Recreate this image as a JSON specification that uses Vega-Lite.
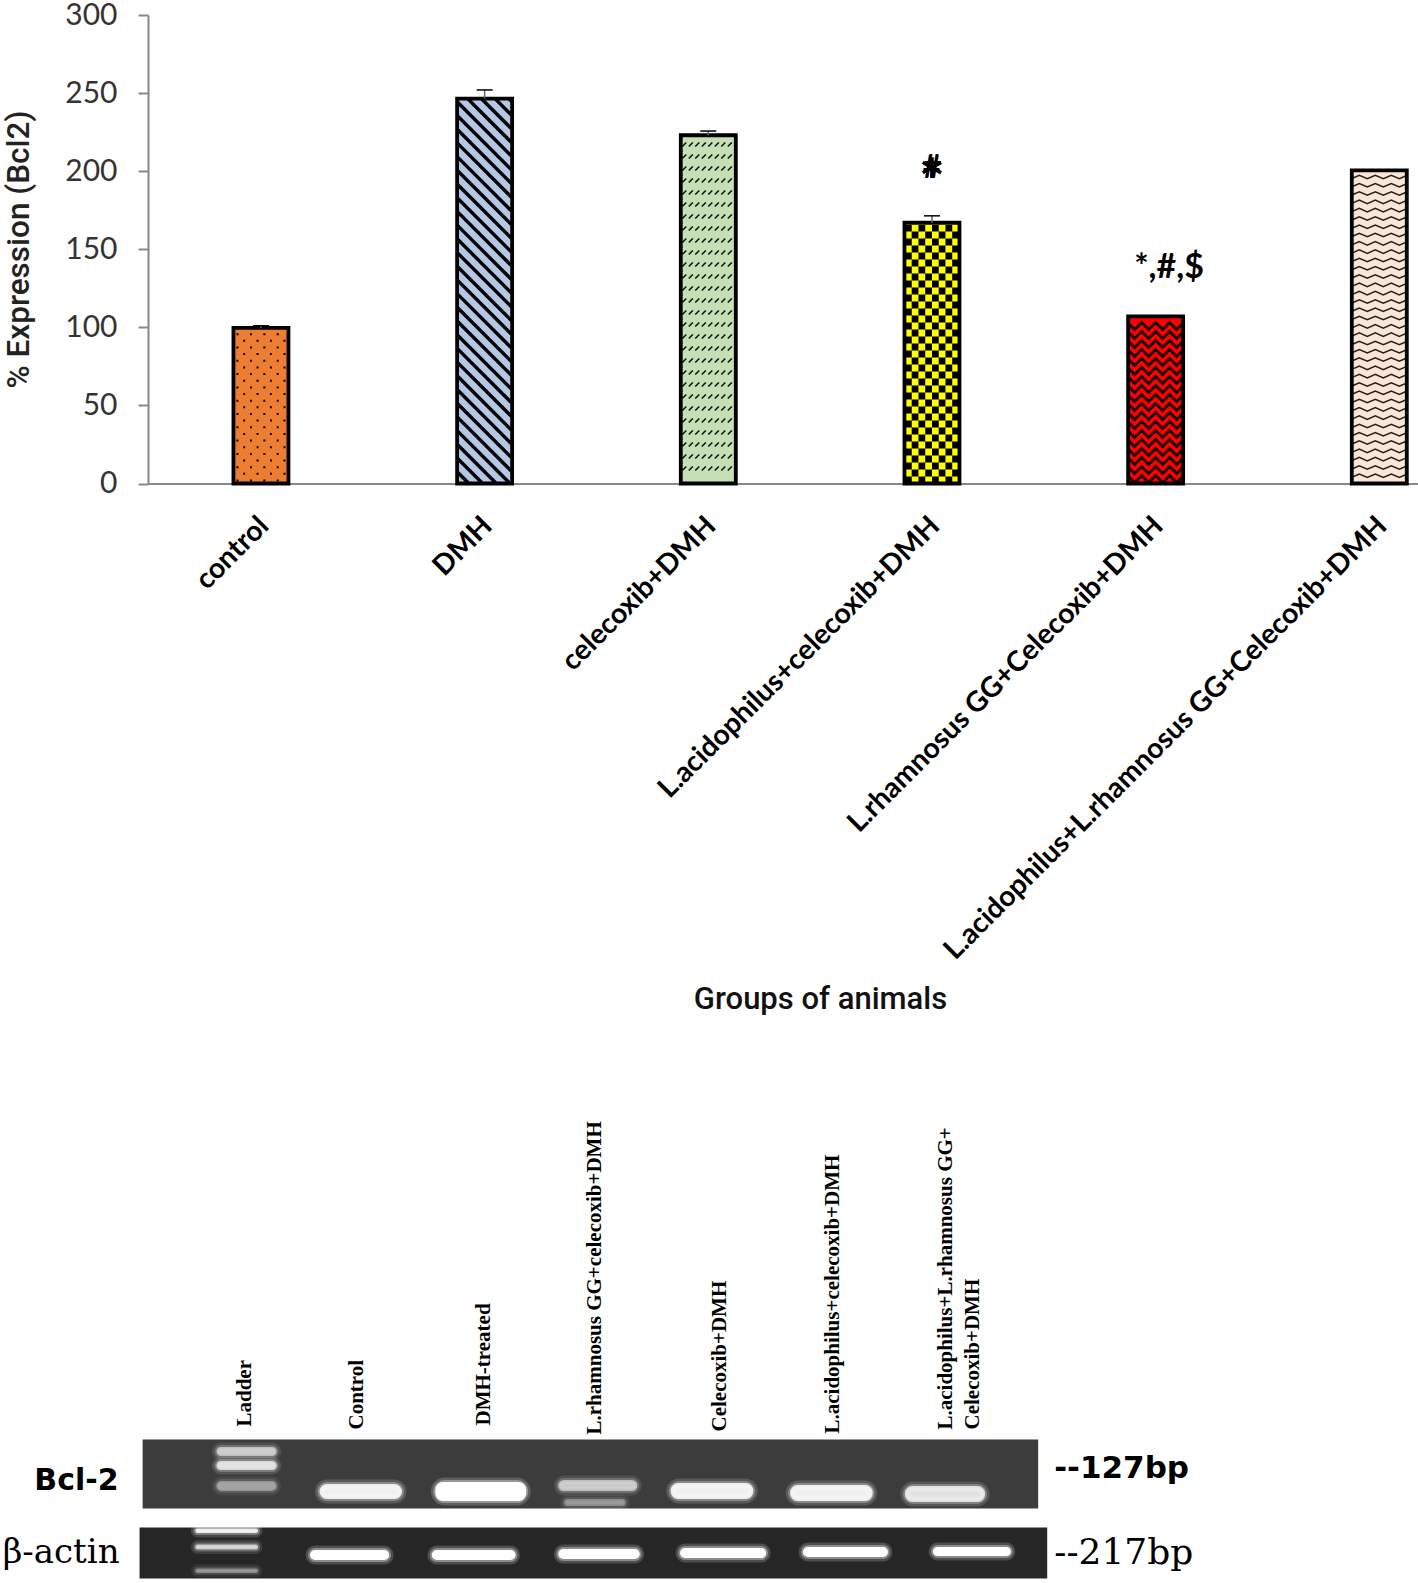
{"$schema":"https://vega.github.io/schema/vega-lite/v6.json","background":"white","padding":{"left":2,"top":0,"right":0,"bottom":0},"bounds":"flush","spacing":626.5,"config":{"view":{"stroke":null}},"datasets":{"bands":[
{"x1":0.78,"x2":1.27,"y1":33.8,"y2":34.4,"glow":0.55},
{"x1":0.78,"x2":1.27,"y1":35.2,"y2":35.8,"glow":0.7},
{"x1":0.78,"x2":1.27,"y1":37.2,"y2":37.9,"glow":0.35},
{"x1":1.66,"x2":2.34,"y1":37.5,"y2":38.7,"glow":0.85},
{"x1":2.65,"x2":3.4,"y1":37.3,"y2":38.9,"glow":1},
{"x1":3.7,"x2":4.35,"y1":37.1,"y2":37.9,"glow":0.55},
{"x1":3.75,"x2":4.25,"y1":39.0,"y2":39.4,"glow":0.3},
{"x1":4.66,"x2":5.34,"y1":37.4,"y2":38.7,"glow":0.85},
{"x1":5.68,"x2":6.36,"y1":37.6,"y2":38.9,"glow":0.85},
{"x1":6.66,"x2":7.32,"y1":37.7,"y2":39.0,"glow":0.75},
{"x1":0.6,"x2":1.11,"y1":41.95,"y2":42.1,"glow":0.85},
{"x1":0.6,"x2":1.11,"y1":43.55,"y2":43.75,"glow":0.65},
{"x1":0.6,"x2":1.11,"y1":45.95,"y2":46.1,"glow":0.35},
{"x1":1.58,"x2":2.23,"y1":44.1,"y2":44.8,"glow":1},
{"x1":2.62,"x2":3.31,"y1":44.1,"y2":44.8,"glow":1},
{"x1":3.7,"x2":4.37,"y1":44.0,"y2":44.7,"glow":1},
{"x1":4.74,"x2":5.45,"y1":43.9,"y2":44.6,"glow":1},
{"x1":5.79,"x2":6.49,"y1":43.8,"y2":44.5,"glow":1},
{"x1":6.9,"x2":7.54,"y1":43.8,"y2":44.4,"glow":1}
]},"vconcat":[
{"width":1270,"height":468.5,
"data":{"values":[{"order":1,"group":"control","value":99.6,"upper":101},{"order":2,"group":"DMH","value":246.5,"upper":252},{"order":3,"group":"celecoxib+DMH","value":223,"upper":225.7},{"order":4,"group":"L.acidophilus+celecoxib+DMH","value":167,"upper":171.4},{"order":5,"group":"L.rhamnosus GG+Celecoxib+DMH","value":107,"upper":null},{"order":6,"group":"L.acidophilus+L.rhamnosus GG+Celecoxib+DMH","value":200.5,"upper":null}]},
"layer":[
{"mark":{"type":"bar","width":55,"orient":"vertical"},"encoding":{
"x":{"field":"order","type":"quantitative","scale":{"domain":[0.495,6.173],"nice":false,"zero":false,"padding":0},"axis":{"values":[1,2,3,4,5,6],"labelExpr":"['control','DMH','celecoxib+DMH','L.acidophilus+celecoxib+DMH','L.rhamnosus GG+Celecoxib+DMH','L.acidophilus+L.rhamnosus GG+Celecoxib+DMH'][datum.value-1]","labelAngle":-45,"labelAlign":"right","labelBaseline":"middle","labelFont":"Lato","labelFontWeight":"bold","labelFontSize":28.3,"labelColor":"#000","labelPadding":38,"labelOffset":3,"labelLimit":0,"labelOverlap":false,"labelBound":false,"labelFlush":false,"ticks":false,"grid":false,"domainColor":"#888888","domainWidth":2,"title":"Groups of animals","titleFont":"Roboto","titleFontWeight":500,"titleFontSize":31,"titleColor":"#111","titleX":672,"titleY":501}},
"y":{"field":"value","type":"quantitative","stack":null,"scale":{"domain":[0,300],"nice":false},"axis":{"values":[0,50,100,150,200,250,300],"grid":false,"domainColor":"#888888","domainWidth":2,"tickColor":"#888888","tickWidth":2,"tickSize":10,"labelFont":"Lato","labelFontSize":30,"labelColor":"#333","labelPadding":21,"title":"% Expression (Bcl2)","titleFont":"Roboto","titleFontWeight":500,"titleFontSize":31.5,"titleColor":"#222","titleX":-113,"titleY":234}},
"color":{"field":"group","type":"nominal","legend":null,"scale":{"domain":["control","DMH","celecoxib+DMH","L.acidophilus+celecoxib+DMH","L.rhamnosus GG+Celecoxib+DMH","L.acidophilus+L.rhamnosus GG+Celecoxib+DMH"],"range":["#ed7d31","#b4c7e7","#c5e0b4","#ffff00","#ff0000","#fbe5d6"]}}}},
{"transform":[{"filter":"datum.order==1"}],"mark":{"type":"point","size":4,"filled":false,"opacity":1,"stroke":"#000","strokeWidth":2,"strokeDash":[2,11.3],"shape":"M-23.5,-2V-155M-16.8,-8.7V-155M-10,-2V-155M-3.4,-8.7V-155M3.4,-2V-155M10,-8.7V-155M16.8,-2V-155M23.5,-8.7V-155"},"encoding":{"x":{"field":"order","type":"quantitative"},"y":{"datum":0}}},
{"transform":[{"filter":"datum.order==2"}],"mark":{"type":"point","size":4,"filled":false,"opacity":1,"stroke":"#000","strokeWidth":3.4,"shape":"M24,-385L27,-382M10.3,-385L27,-368.3M-3.4,-385L27,-354.6M-17.1,-385L27,-340.9M-27,-381.2l54,54M-27,-367.5l54,54M-27,-353.8l54,54M-27,-340.1l54,54M-27,-326.4l54,54M-27,-312.7l54,54M-27,-299l54,54M-27,-285.3l54,54M-27,-271.6l54,54M-27,-257.9l54,54M-27,-244.2l54,54M-27,-230.5l54,54M-27,-216.8l54,54M-27,-203.1l54,54M-27,-189.4l54,54M-27,-175.7l54,54M-27,-162l54,54M-27,-148.3l54,54M-27,-134.6l54,54M-27,-120.9l54,54M-27,-107.2l54,54M-27,-93.5l54,54M-27,-79.8l54,54M-27,-66.1l54,54M-27,-52.4l52.4,52.4M-27,-38.7l38.7,38.7M-27,-25l25,25M-27,-11.3l11.3,11.3"},"encoding":{"x":{"field":"order","type":"quantitative"},"y":{"datum":0}}},
{"transform":[{"filter":"datum.order==3"}],"mark":{"type":"point","size":4,"filled":false,"opacity":1,"stroke":"#111","strokeWidth":1.6,"shape":"M-26,-337l4 -4m2.5 4l4 -4m2.5 4l4 -4m2.5 4l4 -4m2.5 4l4 -4m2.5 4l4 -4m2.5 4l4 -4m2.5 4l4 -4M-26,-325l4 -4m2.5 4l4 -4m2.5 4l4 -4m2.5 4l4 -4m2.5 4l4 -4m2.5 4l4 -4m2.5 4l4 -4m2.5 4l4 -4M-26,-313l4 -4m2.5 4l4 -4m2.5 4l4 -4m2.5 4l4 -4m2.5 4l4 -4m2.5 4l4 -4m2.5 4l4 -4m2.5 4l4 -4M-26,-301l4 -4m2.5 4l4 -4m2.5 4l4 -4m2.5 4l4 -4m2.5 4l4 -4m2.5 4l4 -4m2.5 4l4 -4m2.5 4l4 -4M-26,-289l4 -4m2.5 4l4 -4m2.5 4l4 -4m2.5 4l4 -4m2.5 4l4 -4m2.5 4l4 -4m2.5 4l4 -4m2.5 4l4 -4M-26,-277l4 -4m2.5 4l4 -4m2.5 4l4 -4m2.5 4l4 -4m2.5 4l4 -4m2.5 4l4 -4m2.5 4l4 -4m2.5 4l4 -4M-26,-265l4 -4m2.5 4l4 -4m2.5 4l4 -4m2.5 4l4 -4m2.5 4l4 -4m2.5 4l4 -4m2.5 4l4 -4m2.5 4l4 -4M-26,-253l4 -4m2.5 4l4 -4m2.5 4l4 -4m2.5 4l4 -4m2.5 4l4 -4m2.5 4l4 -4m2.5 4l4 -4m2.5 4l4 -4M-26,-241l4 -4m2.5 4l4 -4m2.5 4l4 -4m2.5 4l4 -4m2.5 4l4 -4m2.5 4l4 -4m2.5 4l4 -4m2.5 4l4 -4M-26,-229l4 -4m2.5 4l4 -4m2.5 4l4 -4m2.5 4l4 -4m2.5 4l4 -4m2.5 4l4 -4m2.5 4l4 -4m2.5 4l4 -4M-26,-217l4 -4m2.5 4l4 -4m2.5 4l4 -4m2.5 4l4 -4m2.5 4l4 -4m2.5 4l4 -4m2.5 4l4 -4m2.5 4l4 -4M-26,-205l4 -4m2.5 4l4 -4m2.5 4l4 -4m2.5 4l4 -4m2.5 4l4 -4m2.5 4l4 -4m2.5 4l4 -4m2.5 4l4 -4M-26,-193l4 -4m2.5 4l4 -4m2.5 4l4 -4m2.5 4l4 -4m2.5 4l4 -4m2.5 4l4 -4m2.5 4l4 -4m2.5 4l4 -4M-26,-181l4 -4m2.5 4l4 -4m2.5 4l4 -4m2.5 4l4 -4m2.5 4l4 -4m2.5 4l4 -4m2.5 4l4 -4m2.5 4l4 -4M-26,-169l4 -4m2.5 4l4 -4m2.5 4l4 -4m2.5 4l4 -4m2.5 4l4 -4m2.5 4l4 -4m2.5 4l4 -4m2.5 4l4 -4M-26,-157l4 -4m2.5 4l4 -4m2.5 4l4 -4m2.5 4l4 -4m2.5 4l4 -4m2.5 4l4 -4m2.5 4l4 -4m2.5 4l4 -4M-26,-145l4 -4m2.5 4l4 -4m2.5 4l4 -4m2.5 4l4 -4m2.5 4l4 -4m2.5 4l4 -4m2.5 4l4 -4m2.5 4l4 -4M-26,-133l4 -4m2.5 4l4 -4m2.5 4l4 -4m2.5 4l4 -4m2.5 4l4 -4m2.5 4l4 -4m2.5 4l4 -4m2.5 4l4 -4M-26,-121l4 -4m2.5 4l4 -4m2.5 4l4 -4m2.5 4l4 -4m2.5 4l4 -4m2.5 4l4 -4m2.5 4l4 -4m2.5 4l4 -4M-26,-109l4 -4m2.5 4l4 -4m2.5 4l4 -4m2.5 4l4 -4m2.5 4l4 -4m2.5 4l4 -4m2.5 4l4 -4m2.5 4l4 -4M-26,-97l4 -4m2.5 4l4 -4m2.5 4l4 -4m2.5 4l4 -4m2.5 4l4 -4m2.5 4l4 -4m2.5 4l4 -4m2.5 4l4 -4M-26,-85l4 -4m2.5 4l4 -4m2.5 4l4 -4m2.5 4l4 -4m2.5 4l4 -4m2.5 4l4 -4m2.5 4l4 -4m2.5 4l4 -4M-26,-73l4 -4m2.5 4l4 -4m2.5 4l4 -4m2.5 4l4 -4m2.5 4l4 -4m2.5 4l4 -4m2.5 4l4 -4m2.5 4l4 -4M-26,-61l4 -4m2.5 4l4 -4m2.5 4l4 -4m2.5 4l4 -4m2.5 4l4 -4m2.5 4l4 -4m2.5 4l4 -4m2.5 4l4 -4M-26,-49l4 -4m2.5 4l4 -4m2.5 4l4 -4m2.5 4l4 -4m2.5 4l4 -4m2.5 4l4 -4m2.5 4l4 -4m2.5 4l4 -4M-26,-37l4 -4m2.5 4l4 -4m2.5 4l4 -4m2.5 4l4 -4m2.5 4l4 -4m2.5 4l4 -4m2.5 4l4 -4m2.5 4l4 -4M-26,-25l4 -4m2.5 4l4 -4m2.5 4l4 -4m2.5 4l4 -4m2.5 4l4 -4m2.5 4l4 -4m2.5 4l4 -4m2.5 4l4 -4M-26,-13l4 -4m2.5 4l4 -4m2.5 4l4 -4m2.5 4l4 -4m2.5 4l4 -4m2.5 4l4 -4m2.5 4l4 -4m2.5 4l4 -4"},"encoding":{"x":{"field":"order","type":"quantitative"},"y":{"datum":0}}},
{"transform":[{"filter":"datum.order==4"}],"mark":{"type":"point","size":4,"filled":false,"opacity":1,"stroke":"#000","strokeWidth":6.75,"strokeDash":[7,7],"shape":"M-23.6,0V-261M-16.9,-7V-261M-10.1,0V-261M-3.4,-7V-261M3.4,0V-261M10.1,-7V-261M16.9,0V-261M23.6,-7V-261"},"encoding":{"x":{"field":"order","type":"quantitative"},"y":{"datum":0}}},
{"transform":[{"filter":"datum.order==5"}],"mark":{"type":"point","size":4,"filled":false,"opacity":1,"stroke":"#1a0000","strokeWidth":2.7,"shape":"M-28,-161l7 7 7 -7 7 7 7 -7 7 7 7 -7 7 7 7 -7M-28,-152l7 7 7 -7 7 7 7 -7 7 7 7 -7 7 7 7 -7M-28,-143l7 7 7 -7 7 7 7 -7 7 7 7 -7 7 7 7 -7M-28,-134l7 7 7 -7 7 7 7 -7 7 7 7 -7 7 7 7 -7M-28,-125l7 7 7 -7 7 7 7 -7 7 7 7 -7 7 7 7 -7M-28,-116l7 7 7 -7 7 7 7 -7 7 7 7 -7 7 7 7 -7M-28,-107l7 7 7 -7 7 7 7 -7 7 7 7 -7 7 7 7 -7M-28,-98l7 7 7 -7 7 7 7 -7 7 7 7 -7 7 7 7 -7M-28,-89l7 7 7 -7 7 7 7 -7 7 7 7 -7 7 7 7 -7M-28,-80l7 7 7 -7 7 7 7 -7 7 7 7 -7 7 7 7 -7M-28,-71l7 7 7 -7 7 7 7 -7 7 7 7 -7 7 7 7 -7M-28,-62l7 7 7 -7 7 7 7 -7 7 7 7 -7 7 7 7 -7M-28,-53l7 7 7 -7 7 7 7 -7 7 7 7 -7 7 7 7 -7M-28,-44l7 7 7 -7 7 7 7 -7 7 7 7 -7 7 7 7 -7M-28,-35l7 7 7 -7 7 7 7 -7 7 7 7 -7 7 7 7 -7M-28,-26l7 7 7 -7 7 7 7 -7 7 7 7 -7 7 7 7 -7M-28,-17l7 7 7 -7 7 7 7 -7 7 7 7 -7 7 7 7 -7M-28,-8l7 7 7 -7 7 7 7 -7 7 7 7 -7 7 7 7 -7"},"encoding":{"x":{"field":"order","type":"quantitative"},"y":{"datum":0}}},
{"transform":[{"filter":"datum.order==6"}],"mark":{"type":"point","size":4,"filled":false,"opacity":1,"stroke":"#222","strokeWidth":1.5,"shape":"M-28,-304.8l8 -3.5 8 3.5 8 -3.5 8 3.5 8 -3.5 8 3.5 8 -3.5M-28,-296.5l8 -3.5 8 3.5 8 -3.5 8 3.5 8 -3.5 8 3.5 8 -3.5M-28,-288.2l8 -3.5 8 3.5 8 -3.5 8 3.5 8 -3.5 8 3.5 8 -3.5M-28,-279.9l8 -3.5 8 3.5 8 -3.5 8 3.5 8 -3.5 8 3.5 8 -3.5M-28,-271.6l8 -3.5 8 3.5 8 -3.5 8 3.5 8 -3.5 8 3.5 8 -3.5M-28,-263.3l8 -3.5 8 3.5 8 -3.5 8 3.5 8 -3.5 8 3.5 8 -3.5M-28,-255l8 -3.5 8 3.5 8 -3.5 8 3.5 8 -3.5 8 3.5 8 -3.5M-28,-246.7l8 -3.5 8 3.5 8 -3.5 8 3.5 8 -3.5 8 3.5 8 -3.5M-28,-238.4l8 -3.5 8 3.5 8 -3.5 8 3.5 8 -3.5 8 3.5 8 -3.5M-28,-230.1l8 -3.5 8 3.5 8 -3.5 8 3.5 8 -3.5 8 3.5 8 -3.5M-28,-221.8l8 -3.5 8 3.5 8 -3.5 8 3.5 8 -3.5 8 3.5 8 -3.5M-28,-213.5l8 -3.5 8 3.5 8 -3.5 8 3.5 8 -3.5 8 3.5 8 -3.5M-28,-205.2l8 -3.5 8 3.5 8 -3.5 8 3.5 8 -3.5 8 3.5 8 -3.5M-28,-196.9l8 -3.5 8 3.5 8 -3.5 8 3.5 8 -3.5 8 3.5 8 -3.5M-28,-188.6l8 -3.5 8 3.5 8 -3.5 8 3.5 8 -3.5 8 3.5 8 -3.5M-28,-180.3l8 -3.5 8 3.5 8 -3.5 8 3.5 8 -3.5 8 3.5 8 -3.5M-28,-172l8 -3.5 8 3.5 8 -3.5 8 3.5 8 -3.5 8 3.5 8 -3.5M-28,-163.7l8 -3.5 8 3.5 8 -3.5 8 3.5 8 -3.5 8 3.5 8 -3.5M-28,-155.4l8 -3.5 8 3.5 8 -3.5 8 3.5 8 -3.5 8 3.5 8 -3.5M-28,-147.1l8 -3.5 8 3.5 8 -3.5 8 3.5 8 -3.5 8 3.5 8 -3.5M-28,-138.8l8 -3.5 8 3.5 8 -3.5 8 3.5 8 -3.5 8 3.5 8 -3.5M-28,-130.5l8 -3.5 8 3.5 8 -3.5 8 3.5 8 -3.5 8 3.5 8 -3.5M-28,-122.2l8 -3.5 8 3.5 8 -3.5 8 3.5 8 -3.5 8 3.5 8 -3.5M-28,-113.9l8 -3.5 8 3.5 8 -3.5 8 3.5 8 -3.5 8 3.5 8 -3.5M-28,-105.6l8 -3.5 8 3.5 8 -3.5 8 3.5 8 -3.5 8 3.5 8 -3.5M-28,-97.3l8 -3.5 8 3.5 8 -3.5 8 3.5 8 -3.5 8 3.5 8 -3.5M-28,-89l8 -3.5 8 3.5 8 -3.5 8 3.5 8 -3.5 8 3.5 8 -3.5M-28,-80.7l8 -3.5 8 3.5 8 -3.5 8 3.5 8 -3.5 8 3.5 8 -3.5M-28,-72.4l8 -3.5 8 3.5 8 -3.5 8 3.5 8 -3.5 8 3.5 8 -3.5M-28,-64.1l8 -3.5 8 3.5 8 -3.5 8 3.5 8 -3.5 8 3.5 8 -3.5M-28,-55.8l8 -3.5 8 3.5 8 -3.5 8 3.5 8 -3.5 8 3.5 8 -3.5M-28,-47.5l8 -3.5 8 3.5 8 -3.5 8 3.5 8 -3.5 8 3.5 8 -3.5M-28,-39.2l8 -3.5 8 3.5 8 -3.5 8 3.5 8 -3.5 8 3.5 8 -3.5M-28,-30.9l8 -3.5 8 3.5 8 -3.5 8 3.5 8 -3.5 8 3.5 8 -3.5M-28,-22.6l8 -3.5 8 3.5 8 -3.5 8 3.5 8 -3.5 8 3.5 8 -3.5M-28,-14.3l8 -3.5 8 3.5 8 -3.5 8 3.5 8 -3.5 8 3.5 8 -3.5M-28,-6l8 -3.5 8 3.5 8 -3.5 8 3.5 8 -3.5 8 3.5 8 -3.5"},"encoding":{"x":{"field":"order","type":"quantitative"},"y":{"datum":0}}},
{"mark":{"type":"bar","width":55,"orient":"vertical","fillOpacity":0,"stroke":"#000","strokeWidth":3.8},"encoding":{"x":{"field":"order","type":"quantitative"},"y":{"field":"value","type":"quantitative","stack":null}}},
{"transform":[{"filter":"datum.upper!=null"}],"mark":{"type":"rule","stroke":"#666","strokeWidth":1.5},"encoding":{"x":{"field":"order","type":"quantitative"},"y":{"field":"value","type":"quantitative"},"y2":{"field":"upper"}}},
{"transform":[{"filter":"datum.upper!=null"}],"mark":{"type":"tick","orient":"horizontal","size":16,"thickness":1.5,"color":"#000","opacity":1},"encoding":{"x":{"field":"order","type":"quantitative"},"y":{"field":"upper","type":"quantitative"}}},
{"data":{"values":[{"order":4,"pos":202,"note":"#"}]},"mark":{"type":"text","font":"Lato","fontWeight":"bold","fontSize":32,"color":"#000"},"encoding":{"x":{"field":"order","type":"quantitative"},"y":{"field":"pos","type":"quantitative"},"text":{"field":"note"}}},
{"data":{"values":[{"order":4,"pos":191,"note":"*"}]},"mark":{"type":"text","font":"Lato","fontWeight":"bold","fontSize":62,"color":"#000"},"encoding":{"x":{"field":"order","type":"quantitative"},"y":{"field":"pos","type":"quantitative"},"text":{"field":"note"}}},
{"data":{"values":[{"order":5.06,"pos":138,"note":"*,#,$"}]},"mark":{"type":"text","font":"Lato","fontWeight":"bold","fontSize":34,"color":"#000"},"encoding":{"x":{"field":"order","type":"quantitative"},"y":{"field":"pos","type":"quantitative"},"text":{"field":"note"}}}
],"resolve":{"scale":{"color":"independent"}}},
{"width":1270,"height":473,"layer":[
{"data":{"values":[{"panel":"Bcl-2","x1":0.137,"x2":7.786,"y1":32.9,"y2":39.8},{"panel":"b-actin","x1":0.111,"x2":7.863,"y1":41.7,"y2":46.8}]},"mark":{"type":"rect"},"encoding":{
"x":{"field":"x1","type":"quantitative","axis":null,"scale":{"domain":[0.183,11.03],"nice":false,"zero":false,"padding":0}},"x2":{"field":"x2"},
"y":{"field":"y1","type":"quantitative","axis":null,"scale":{"domain":[47.3,0],"nice":false,"zero":false}},"y2":{"field":"y2"},
"color":{"field":"panel","type":"nominal","legend":null,"scale":{"domain":["Bcl-2","b-actin"],"range":["#3c3c3c","#262626"]}}}},
{"data":{"name":"bands"},"mark":{"type":"rect","fill":"#ffffff","stroke":"#ffffff","strokeWidth":12,"cornerRadius":8,"fillOpacity":0.18,"strokeOpacity":0.18},"encoding":{"x":{"field":"x1","type":"quantitative"},"x2":{"field":"x2"},"y":{"field":"y1","type":"quantitative"},"y2":{"field":"y2"},"opacity":{"field":"glow","type":"quantitative","legend":null,"scale":null}}},
{"data":{"name":"bands"},"mark":{"type":"rect","fill":"#ffffff","stroke":"#ffffff","strokeWidth":7,"cornerRadius":8,"fillOpacity":0.35,"strokeOpacity":0.35},"encoding":{"x":{"field":"x1","type":"quantitative"},"x2":{"field":"x2"},"y":{"field":"y1","type":"quantitative"},"y2":{"field":"y2"},"opacity":{"field":"glow","type":"quantitative","legend":null,"scale":null}}},
{"data":{"name":"bands"},"mark":{"type":"rect","fill":"#ffffff","stroke":"#ffffff","strokeWidth":3,"cornerRadius":6},"encoding":{"x":{"field":"x1","type":"quantitative"},"x2":{"field":"x2"},"y":{"field":"y1","type":"quantitative"},"y2":{"field":"y2"},"opacity":{"field":"glow","type":"quantitative","legend":null,"scale":null}}},
{"data":{"values":[{"lane":1.01,"pos":31.6,"label":"Ladder"},{"lane":1.97,"pos":31.9,"label":"Control"},{"lane":3.05,"pos":31.5,"label":"DMH-treated"},{"lane":4.0,"pos":32.4,"label":"L.rhamnosus GG+celecoxib+DMH"},{"lane":5.07,"pos":32.1,"label":"Celecoxib+DMH"},{"lane":6.03,"pos":32.3,"label":"L.acidophilus+celecoxib+DMH"},{"lane":7.0,"pos":31.9,"label":"L.acidophilus+L.rhamnosus GG+"},{"lane":7.23,"pos":31.9,"label":"Celecoxib+DMH"}]},"mark":{"type":"text","font":"Liberation Serif","fontWeight":"bold","fontSize":21,"angle":270,"align":"left","baseline":"middle","color":"#000"},"encoding":{"x":{"field":"lane","type":"quantitative"},"y":{"field":"pos","type":"quantitative"},"text":{"field":"label"}}},
{"data":{"values":[{"lane":-0.068,"pos":37.0,"label":"Bcl-2"}]},"mark":{"type":"text","font":"DejaVu Sans","fontWeight":"bold","fontSize":30,"align":"right","baseline":"middle","color":"#000"},"encoding":{"x":{"field":"lane","type":"quantitative"},"y":{"field":"pos","type":"quantitative"},"text":{"field":"label"}}},
{"data":{"values":[{"lane":-0.06,"pos":44.2,"label":"β-actin"}]},"mark":{"type":"text","font":"DejaVu Serif","fontSize":34,"align":"right","baseline":"middle","color":"#000"},"encoding":{"x":{"field":"lane","type":"quantitative"},"y":{"field":"pos","type":"quantitative"},"text":{"field":"label"}}},
{"data":{"values":[{"lane":7.923,"pos":35.85,"label":"--127bp"}]},"mark":{"type":"text","font":"DejaVu Sans","fontWeight":"bold","fontSize":31,"align":"left","baseline":"middle","color":"#000"},"encoding":{"x":{"field":"lane","type":"quantitative"},"y":{"field":"pos","type":"quantitative"},"text":{"field":"label"}}},
{"data":{"values":[{"lane":7.923,"pos":44.2,"label":"--217bp"}]},"mark":{"type":"text","font":"DejaVu Serif","fontSize":36,"align":"left","baseline":"middle","color":"#000"},"encoding":{"x":{"field":"lane","type":"quantitative"},"y":{"field":"pos","type":"quantitative"},"text":{"field":"label"}}}
],"resolve":{"scale":{"color":"independent"}}}
]}
